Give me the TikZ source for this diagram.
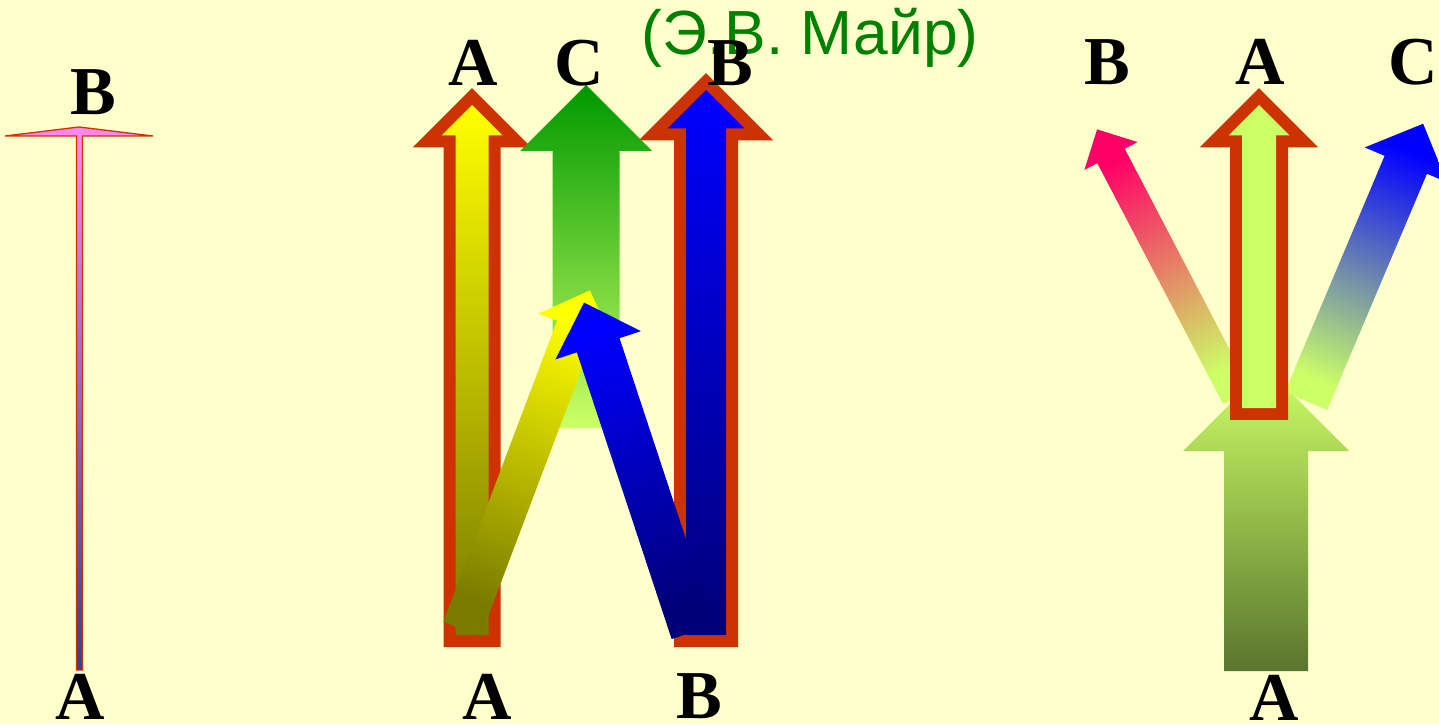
\documentclass[tikz,border=0pt]{standalone}
\usepackage{fontspec}
\setmainfont{Liberation Serif}
\newfontfamily\titlefont{Liberation Sans}
\definecolor{bgyellow}{HTML}{FFFFCC}
\definecolor{rimred}{HTML}{CC3300}
\definecolor{titlegreen}{HTML}{008000}
\definecolor{headpink}{HTML}{FF88EE}
\definecolor{stemblue}{HTML}{3040A0}
\definecolor{olivebot}{HTML}{7A7A00}
\definecolor{darkgreen}{HTML}{009900}
\definecolor{lime}{HTML}{CCFF66}
\definecolor{navybot}{HTML}{000078}
\definecolor{deeppink}{HTML}{FF0066}
\definecolor{mossbot}{HTML}{5A752E}
% arrow pointing up: stem half width, head half width, length
\newcommand{\arrowshape}[3]{(-#1,0) -- (-#1,#3-#2) -- (-#2,#3-#2) -- (0,#3) -- (#2,#3-#2) -- (#1,#3-#2) -- (#1,0) -- cycle}
\begin{document}
\begin{tikzpicture}[x=0.02cm, y=0.02cm, line join=miter,
  lbl/.style={font=\fontsize{39}{40}\selectfont\bfseries, inner sep=0pt, anchor=base},
  rim/.style={preaction={draw=rimred, line width=0.48cm}}]
  \useasboundingbox (0,0) rectangle (1439,724);
  \fill[bgyellow] (0,0) rectangle (1439,724);
  % left: thin arrow
  \shade[top color=headpink, bottom color=stemblue, draw=rimred, line width=0.026cm]
    (76.5,54) -- (76.5,588) -- (5,588) -- (79,597) -- (153,588) -- (82.5,588) -- (82.5,54) -- cycle;
  % middle
  \shade[rim, shift={(472,89)}, top color=yellow, bottom color=olivebot] \arrowshape{16.5}{30.5}{530};
  \shade[rim, shift={(706,89)}, top color=blue, bottom color=navybot] \arrowshape{20}{38.5}{545};
  \shade[shift={(586,296)}, top color=darkgreen, bottom color=lime] \arrowshape{33.5}{66}{343};
  \shade[shift={(462,95)}, rotate=-20.7, top color=yellow, bottom color=olivebot, shading angle=-20.7]
    \arrowshape{20}{40}{362};
  \shade[shift={(693,92)}, rotate=18.3, top color=blue, bottom color=navybot, shading angle=18.3]
    \arrowshape{22.5}{45}{347};
  % right
  \shade[shift={(1266,53)}, top color=lime, bottom color=mossbot] \arrowshape{42}{83}{303};
  \shade[shift={(1237,327)}, rotate=27.6, top color=deeppink, bottom color=lime, shading angle=27.6]
    \arrowshape{15.5}{30}{302};
  \shade[shift={(1306,323)}, rotate=-22.9, top color=blue, bottom color=lime, shading angle=-22.9]
    \arrowshape{23}{44.6}{301};
  \fill[rim, shift={(1259,316)}, lime] \arrowshape{17}{30.5}{303};
  % labels
  \node[font=\titlefont\fontsize{35.5}{36}\selectfont, text=titlegreen, inner sep=0pt, anchor=base]
    (author) at (810,669) {(Э.В. Майр)};
  \node[lbl] (lB) at (93,609) {B};
  \node[lbl] (lA) at (80,5) {A};
  \node[lbl] (mAtop) at (473,638) {A};
  \node[lbl] (mC) at (579,638) {C};
  \node[lbl] (mBtop) at (730,638) {B};
  \node[lbl] (mA) at (487,5) {A};
  \node[lbl] (mB) at (699,6) {B};
  \node[lbl] (rB) at (1107,639) {B};
  \node[lbl] (rA) at (1260,639) {A};
  \node[lbl] (rC) at (1413,639) {C};
  \node[lbl] (rAbot) at (1274,4) {A};
\end{tikzpicture}
\end{document}
